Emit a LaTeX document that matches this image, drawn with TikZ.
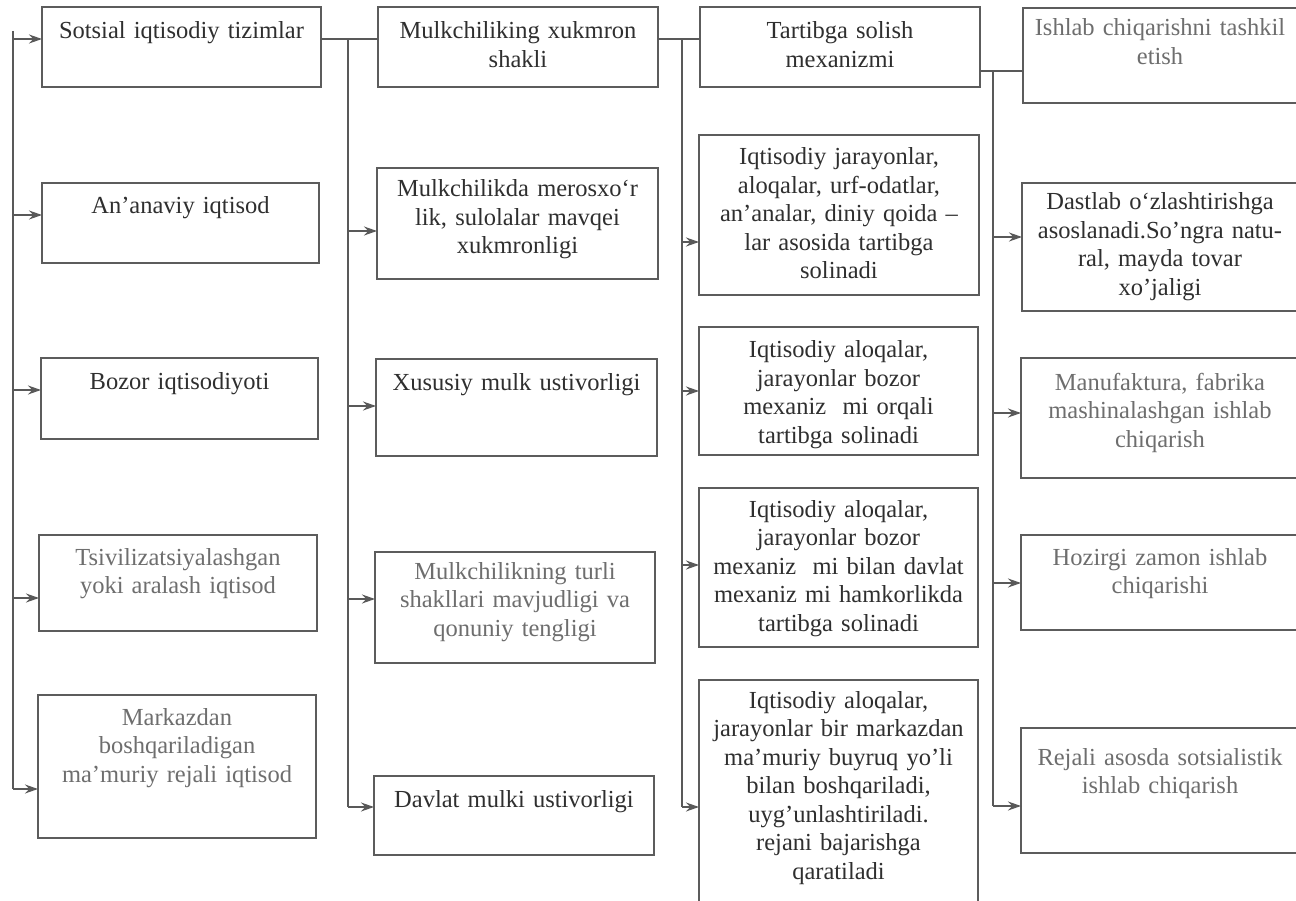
\documentclass[tikz,border=0pt]{standalone}
\usepackage{fontspec}
\setmainfont{Liberation Serif}
\usetikzlibrary{arrows.meta}
\definecolor{ink}{HTML}{2F2F2F}
\definecolor{inklight}{HTML}{6E6E6E}
\definecolor{frame}{HTML}{5C5C5C}
\definecolor{wirecol}{HTML}{595959}

% a framed cell given by its corners: name, x1, y1, x2, y2 (y measured downwards)
\newcommand\cellbox[5]{%
  \pgfmathsetmacro\cellW{#4-#2}\pgfmathsetmacro\cellH{#5-#3}%
  \node[box, minimum width=\cellW pt, minimum height=\cellH pt, anchor=north west] (#1) at (#2,-#3) {};}

\begin{document}
\begin{tikzpicture}[x=1pt,y=1pt,
  box/.style={draw=frame, line width=1.5pt, rectangle, inner sep=0pt, outer sep=0pt},
  lbl/.style={text=ink, font=\fontsize{24.5}{28.5}\selectfont, text width=290pt,
              align=center, inner sep=0pt, anchor=base},
  faded/.style={text=inklight},
  wire/.style={draw=wirecol, line width=1.2pt},
  arr/.style={wire, -{Stealth[length=13pt,width=9pt]}},
]
\useasboundingbox[fill=white] (0,0) rectangle (1296,-901);
\begin{scope}
\clip (0,0) rectangle (1296,-901);

% ---- column 1: economic systems
\cellbox{A1}{42}{7}{321}{87}
\cellbox{A2}{42}{183}{319}{263}
\cellbox{A3}{41}{358}{318}{439}
\cellbox{A4}{39}{535}{317}{631}
\cellbox{A5}{38}{695}{316}{838}
% ---- column 2: dominant form of ownership
\cellbox{B1}{378}{7}{658}{87}
\cellbox{B2}{377}{168}{658}{279}
\cellbox{B3}{376}{359}{657}{456}
\cellbox{B4}{375}{552}{655}{663}
\cellbox{B5}{374}{776}{654}{855}
% ---- column 3: regulation mechanism
\cellbox{C1}{700}{7}{980}{87}
\cellbox{C2}{699}{135}{979}{295}
\cellbox{C3}{699}{327}{978}{455}
\cellbox{C4}{699}{488}{978}{647}
\cellbox{C5}{699}{680}{978}{915}
% ---- column 4: organisation of production
\cellbox{D1}{1023}{8}{1302}{103}
\cellbox{D2}{1022}{183}{1302}{311}
\cellbox{D3}{1021}{358}{1302}{478}
\cellbox{D4}{1021}{535}{1302}{630}
\cellbox{D5}{1021}{728}{1302}{853}

% ---- cell texts
\node[lbl] (A1t) at (A1.north |- 0,-39) {Sotsial iqtisodiy tizimlar};
\node[lbl] (A2t) at (A2.north |- 0,-214) {An’anaviy iqtisod};
\node[lbl] (A3t) at (A3.north |- 0,-389) {Bozor iqtisodiyoti};
\node[lbl, faded] (A4t) at (A4.north |- 0,-565) {Tsivilizatsiyalashgan\\yoki aralash iqtisod};
\node[lbl, faded] (A5t) at (A5.north |- 0,-725) {Markazdan\\boshqariladigan\\ma’muriy rejali iqtisod};

\node[lbl] (B1t) at (B1.north |- 0,-39) {Mulkchiliking xukmron\\shakli};
\node[lbl] (B2t) at (B2.north |- 0,-197) {Mulkchilikda merosxo‘r\\lik, sulolalar mavqei\\xukmronligi};
\node[lbl] (B3t) at (B3.north |- 0,-390) {Xususiy mulk ustivorligi};
\node[lbl, faded] (B4t) at (B4.north |- 0,-579) {Mulkchilikning turli\\shakllari mavjudligi va\\qonuniy tengligi};
\node[lbl] (B5t) at (B5.north |- 0,-807) {Davlat mulki ustivorligi};

\node[lbl] (C1t) at (C1.north |- 0,-39) {Tartibga solish\\mexanizmi};
\node[lbl] (C2t) at (C2.north |- 0,-165) {Iqtisodiy jarayonlar,\\aloqalar, urf-odatlar,\\an’analar, diniy qoida –\\lar asosida tartibga\\solinadi};
\node[lbl] (C3t) at (C3.north |- 0,-358) {Iqtisodiy aloqalar,\\jarayonlar bozor\\mexaniz\ \ mi orqali\\tartibga solinadi};
\node[lbl] (C4t) at (C4.north |- 0,-517) {Iqtisodiy aloqalar,\\jarayonlar bozor\\mexaniz\ \ mi bilan davlat\\mexaniz mi hamkorlikda\\tartibga solinadi};
\node[lbl] (C5t) at (C5.north |- 0,-708) {Iqtisodiy aloqalar,\\jarayonlar bir markazdan\\ma’muriy buyruq yo’li\\bilan boshqariladi,\\uyg’unlashtiriladi.\\rejani bajarishga\\qaratiladi};

\node[lbl, faded] (D1t) at (1160,-36) {Ishlab chiqarishni tashkil\\etish};
\node[lbl] (D2t) at (1160,-210) {Dastlab o‘zlashtirishga\\asoslanadi.So’ngra natu-\\ral, mayda tovar\\xo’jaligi};
\node[lbl, faded] (D3t) at (1160,-390) {Manufaktura, fabrika\\mashinalashgan ishlab\\chiqarish};
\node[lbl, faded] (D4t) at (1160,-565) {Hozirgi zamon ishlab\\chiqarishi};
\node[lbl, faded] (D5t) at (1160,-765) {Rejali asosda sotsialistik\\ishlab chiqarish};

% ---- bus lines and junctions
\coordinate (L1top) at (13,-31);
\coordinate (L1bot) at (13,-789);
\coordinate (J1) at (348,-39);
\coordinate (J1bot) at (348,-807);
\coordinate (J2) at (682,-39);
\coordinate (J2bot) at (682,-807);
\coordinate (J3) at (993,-71);
\coordinate (J3bot) at (993,-806);

% header row links
\draw[wire] (A1.east |- J1) -- (B1.west |- J1);
\draw[wire] (B1.east |- J2) -- (C1.west |- J2);
\draw[wire] (C1.east |- J3) -- (D1.west |- J3);

% left bus feeding column 1
\draw[wire] (L1top) -- (L1bot);
\draw[arr] (L1top |- 0,-39) -- (A1.west |- 0,-39);
\draw[arr] (L1top |- 0,-215) -- (A2.west |- 0,-215);
\draw[arr] (L1top |- 0,-390) -- (A3.west |- 0,-390);
\draw[arr] (L1top |- 0,-598) -- (A4.west |- 0,-598);
\draw[arr] (L1bot) -- (A5.west |- L1bot);

% bus feeding column 2
\draw[wire] (J1) -- (J1bot);
\draw[arr] (J1 |- 0,-231) -- (B2.west |- 0,-231);
\draw[arr] (J1 |- 0,-406) -- (B3.west |- 0,-406);
\draw[arr] (J1 |- 0,-599) -- (B4.west |- 0,-599);
\draw[arr] (J1bot) -- (B5.west |- J1bot);

% bus feeding column 3
\draw[wire] (J2) -- (J2bot);
\draw[arr] (J2 |- 0,-242) -- (C2.west |- 0,-242);
\draw[arr] (J2 |- 0,-391) -- (C3.west |- 0,-391);
\draw[arr] (J2 |- 0,-565) -- (C4.west |- 0,-565);
\draw[arr] (J2bot) -- (C5.west |- J2bot);

% bus feeding column 4
\draw[wire] (J3) -- (J3bot);
\draw[arr] (J3 |- 0,-237) -- (D2.west |- 0,-237);
\draw[arr] (J3 |- 0,-413) -- (D3.west |- 0,-413);
\draw[arr] (J3 |- 0,-583) -- (D4.west |- 0,-583);
\draw[arr] (J3bot) -- (D5.west |- J3bot);
\end{scope}
\end{tikzpicture}
\end{document}
